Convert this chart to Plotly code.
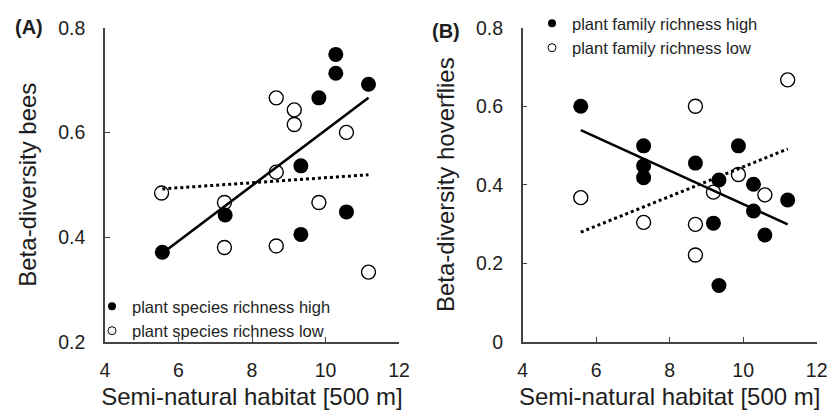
import plotly.graph_objects as go

# ---- Panel A: bees ----
a_high_x = [5.56, 7.27, 9.33, 9.33, 9.82, 10.28, 10.28, 10.57, 11.17]
a_high_y = [0.371, 0.442, 0.536, 0.405, 0.666, 0.749, 0.713, 0.448, 0.692]
a_low_x = [5.54, 7.25, 7.25, 8.66, 8.66, 8.66, 9.15, 9.15, 9.82, 10.57, 11.17]
a_low_y = [0.484, 0.466, 0.380, 0.666, 0.524, 0.383, 0.643, 0.615, 0.466, 0.600, 0.333]
a_fit_x = [5.56, 11.17]
a_fit_high = [0.369, 0.666]
a_fit_low = [0.492, 0.519]

# ---- Panel B: hoverflies ----
b_high_x = [5.58, 7.29, 7.29, 7.29, 8.70, 9.19, 9.34, 9.34, 9.87, 10.28, 10.28, 10.59, 11.21]
b_high_y = [0.600, 0.499, 0.448, 0.418, 0.455, 0.302, 0.412, 0.143, 0.499, 0.401, 0.333, 0.272, 0.361]
b_low_x = [5.58, 7.29, 8.70, 8.70, 8.70, 9.19, 9.87, 10.59, 11.21]
b_low_y = [0.367, 0.304, 0.600, 0.299, 0.221, 0.381, 0.426, 0.374, 0.667]
b_fit_x = [5.58, 11.21]
b_fit_high = [0.539, 0.299]
b_fit_low = [0.279, 0.491]

legend_a = ["plant species richness high", "plant species richness low"]
legend_b = ["plant family richness high", "plant family richness low"]

FONT = "Liberation Sans, Arial, sans-serif"
TXT = "#1e1e1e"
AX = "#444444"
W, H = 835, 410

fig = go.Figure()

def add_panel(xa, ya, hx, hy, lx, ly, fx, fhi, flo, names, leg):
    fig.add_trace(go.Scatter(x=hx, y=hy, mode="markers", xaxis=xa, yaxis=ya, showlegend=False,
                             marker=dict(size=15, color="black", line=dict(width=0))))
    fig.add_trace(go.Scatter(x=lx, y=ly, mode="markers", xaxis=xa, yaxis=ya, showlegend=False,
                             marker=dict(size=14, color="rgba(0,0,0,0)", line=dict(width=1.4, color="black"))))
    fig.add_trace(go.Scatter(x=fx, y=fhi, mode="lines", xaxis=xa, yaxis=ya, showlegend=False,
                             line=dict(color="black", width=2.6)))
    fig.add_trace(go.Scatter(x=fx, y=flo, mode="lines", xaxis=xa, yaxis=ya, showlegend=False,
                             line=dict(color="black", width=3, dash="dot")))
    # legend entries
    fig.add_trace(go.Scatter(x=[None], y=[None], mode="markers", xaxis=xa, yaxis=ya, name=names[0],
                             legend=leg, legendgroup=leg + "h",
                             marker=dict(size=8, color="black", line=dict(width=0))))
    fig.add_trace(go.Scatter(x=[None], y=[None], mode="markers", xaxis=xa, yaxis=ya, name=names[1],
                             legend=leg, legendgroup=leg + "l",
                             marker=dict(size=8, color="white", line=dict(width=1, color="black"))))

add_panel("x", "y", a_high_x, a_high_y, a_low_x, a_low_y, a_fit_x, a_fit_high, a_fit_low, legend_a, "legend")
add_panel("x2", "y2", b_high_x, b_high_y, b_low_x, b_low_y, b_fit_x, b_fit_high, b_fit_low, legend_b, "legend2")

def xaxis(domain, anchor):
    return dict(domain=domain, anchor=anchor, range=[4, 12], dtick=2, tick0=4,
                showline=True, linecolor=AX, linewidth=1.5, mirror=False,
                ticks="inside", ticklen=5, tickcolor=AX, tickwidth=1.2,
                showgrid=False, zeroline=False, automargin=False,
                tickfont=dict(size=19.5, color=TXT, family=FONT), ticklabelstandoff=10,
                title=dict(text="Semi-natural habitat [500 m]", font=dict(size=24, color=TXT, family=FONT)))

def yaxis(domain, anchor, rng, title):
    return dict(domain=domain, anchor=anchor, range=rng, dtick=0.2,
                showline=True, linecolor=AX, linewidth=1.5,
                ticks="inside", ticklen=5, tickcolor=AX, tickwidth=1.2,
                showgrid=False, zeroline=False, automargin=False,
                tickfont=dict(size=19.5, color=TXT, family=FONT), ticklabelstandoff=14,
                title=dict(text=title, font=dict(size=24, color=TXT, family=FONT)))

ydom = [(H - 341.7) / H, (H - 27.7) / H]

fig.update_layout(
    width=W, height=H,
    margin=dict(l=0, r=0, t=0, b=0, autoexpand=False),
    paper_bgcolor="white", plot_bgcolor="white",
    font=dict(family=FONT, color=TXT),
    xaxis=xaxis([105 / W, 399 / W], "y"),
    yaxis=yaxis(ydom, "x", [0.2, 0.8], "Beta-diversity bees"),
    xaxis2=xaxis([522.7 / W, 816.7 / W], "y2"),
    yaxis2=yaxis(ydom, "x2", [0, 0.8], "Beta-diversity hoverflies"),
    legend=dict(x=92 / W, y=(H - 289) / H, xanchor="left", yanchor="top",
                bgcolor="rgba(0,0,0,0)", font=dict(size=16.5, color=TXT, family=FONT),
                itemwidth=30, tracegroupgap=0),
    legend2=dict(x=532 / W, y=(H - 6) / H, xanchor="left", yanchor="top",
                 bgcolor="rgba(0,0,0,0)", font=dict(size=16.5, color=TXT, family=FONT),
                 itemwidth=30, tracegroupgap=0),
    annotations=[
        dict(text="<b>(A)</b>", x=29 / W, y=(H - 27) / H, xref="paper", yref="paper",
             xanchor="center", yanchor="middle",
             showarrow=False, font=dict(size=20, color=TXT, family=FONT)),
        dict(text="<b>(B)</b>", x=446 / W, y=(H - 31) / H, xref="paper", yref="paper",
             xanchor="center", yanchor="middle",
             showarrow=False, font=dict(size=20, color=TXT, family=FONT)),
    ],
)

fig.write_html("out.html")
